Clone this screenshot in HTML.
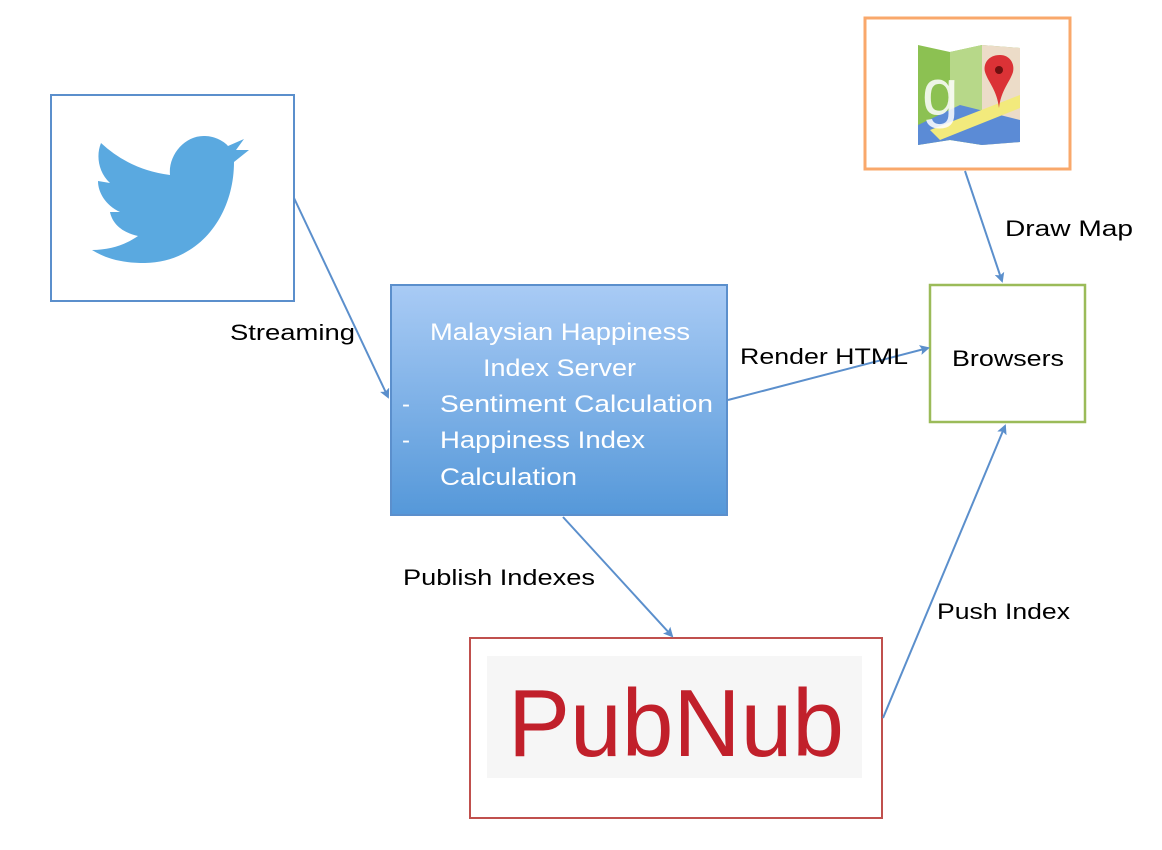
<!DOCTYPE html>
<html><head><meta charset="utf-8"><style>
html,body{margin:0;padding:0;background:#fff;width:1162px;height:850px;overflow:hidden}
svg{display:block}
text{font-family:"Liberation Sans",sans-serif}
</style></head><body>
<svg width="1162" height="850" viewBox="0 0 1162 850" xmlns="http://www.w3.org/2000/svg">
<defs>
<linearGradient id="g" x1="0" y1="0" x2="0" y2="1">
<stop offset="0" stop-color="#a9cbf5"/><stop offset="1" stop-color="#5598d9"/>
</linearGradient>
<marker id="a" markerWidth="10" markerHeight="10" refX="8" refY="5" orient="auto" markerUnits="userSpaceOnUse">
<path d="M0,0 L10,5 L0,10 L2,5 Z" fill="#5b8fcc"/>
</marker>
</defs>
<rect x="51" y="95" width="243" height="206" fill="#fff" stroke="#5b8fcc" stroke-width="2"/>
<path fill="#5aa9e0" d="M101,143 Q130,170 170,175 C168,155 185,135 205,136 C215,136 225,142 228,146 L244,139 L236,150 L249,150 L234,162 C234,215 200,262 145,263 C120,263 105,258 92,250 C110,250 125,245 138,236 C120,232 112,222 110,212 L120,212 C105,205 98,192 98,181 L110,183 C98,172 96,155 101,143 Z"/>
<rect x="865" y="18" width="205" height="151" fill="#fff" stroke="#f9a86b" stroke-width="3"/>
<g>
<polygon points="918,45 950,52 982,45 1020,48 1020,142 982,145 950,140 918,145" fill="#8cc152"/>
<polygon points="950,52 982,45 982,145 950,140" fill="#b7d889"/>
<polygon points="982,45 1020,48 1020,142 982,145" fill="#ecdcc8"/>
<polygon points="918,125 960,105 1020,120 1020,142 982,145 950,140 918,145" fill="#5b8bd6"/>
<polygon points="930,130 1020,95 1020,108 940,140" fill="#f2ea7c"/>
<text x="922" y="115" font-size="66" fill="#fff" font-family="Liberation Serif,serif" opacity="0.85">g</text>
<path d="M1000,55 C988,55 983,64 985,72 C988,82 997,90 999,108 C1001,90 1010,82 1013,72 C1015,64 1010,55 1000,55 Z" fill="#db3236"/>
<circle cx="999" cy="70" r="4" fill="#6e1010"/>
</g>
<rect x="930" y="285" width="155" height="137" fill="#fff" stroke="#9bbb59" stroke-width="2.5"/>
<text x="952" y="366" font-size="22" textLength="112" lengthAdjust="spacingAndGlyphs" fill="#000">Browsers</text>
<rect x="391" y="285" width="336" height="230" fill="url(#g)" stroke="#5b8fcc" stroke-width="2"/>
<g font-size="24" fill="#fff" lengthAdjust="spacingAndGlyphs">
<text x="430" y="340" textLength="260" lengthAdjust="spacingAndGlyphs">Malaysian Happiness</text>
<text x="483" y="376" textLength="153" lengthAdjust="spacingAndGlyphs">Index Server</text>
<text x="402" y="412">-</text><text x="440" y="412" textLength="273" lengthAdjust="spacingAndGlyphs">Sentiment Calculation</text>
<text x="402" y="448">-</text><text x="440" y="448" textLength="205" lengthAdjust="spacingAndGlyphs">Happiness Index</text>
<text x="440" y="485" textLength="137" lengthAdjust="spacingAndGlyphs">Calculation</text>
</g>
<rect x="470" y="638" width="412" height="180" fill="#fff" stroke="#c0504d" stroke-width="2"/>
<rect x="487" y="656" width="375" height="122" fill="#f6f6f6"/>
<text x="508" y="756" font-size="96" fill="#c1202b" textLength="336" lengthAdjust="spacingAndGlyphs">PubNub</text>
<g stroke="#5b8fcc" stroke-width="2" fill="none" marker-end="url(#a)">
<line x1="294" y1="198" x2="388" y2="397"/>
<line x1="965" y1="171" x2="1002" y2="281"/>
<line x1="728" y1="400" x2="928" y2="348"/>
<line x1="563" y1="517" x2="672" y2="636"/>
<line x1="883" y1="718" x2="1005" y2="426"/>
</g>
<g font-size="22" fill="#000">
<text x="230" y="340" textLength="125" lengthAdjust="spacingAndGlyphs">Streaming</text>
<text x="1005" y="236" textLength="128" lengthAdjust="spacingAndGlyphs">Draw Map</text>
<text x="740" y="364" textLength="168" lengthAdjust="spacingAndGlyphs">Render HTML</text>
<text x="403" y="585" textLength="192" lengthAdjust="spacingAndGlyphs">Publish Indexes</text>
<text x="937" y="619" textLength="133" lengthAdjust="spacingAndGlyphs">Push Index</text>
</g>
</svg>
</body></html>
